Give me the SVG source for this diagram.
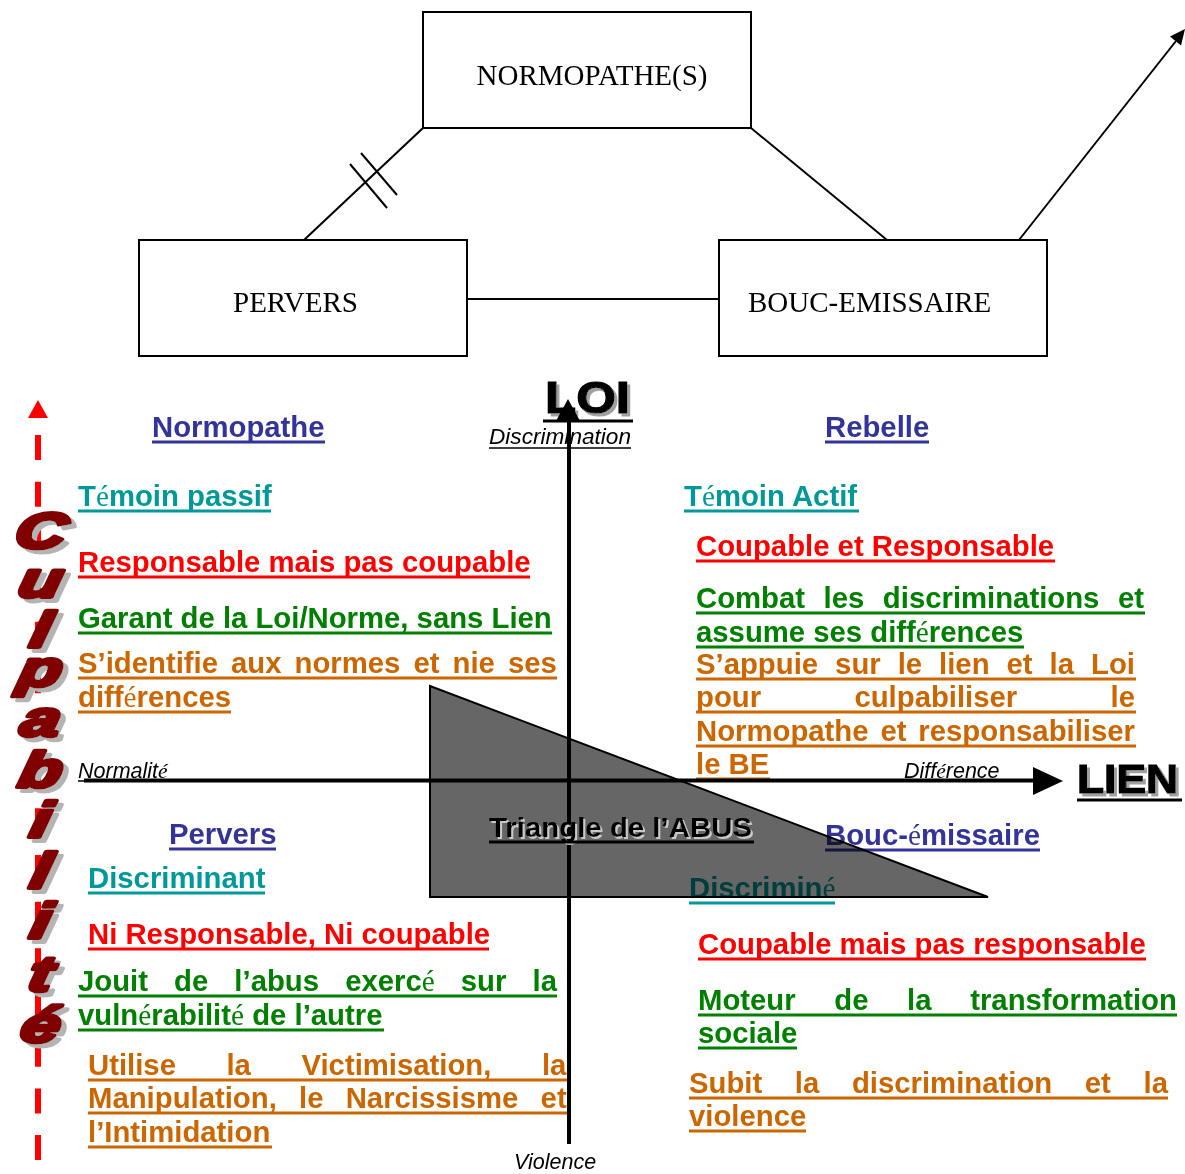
<svg xmlns="http://www.w3.org/2000/svg" width="1185" height="1174" viewBox="0 0 1185 1174">
<defs>
  <filter id="sh" x="-10%" y="-10%" width="130%" height="140%">
    <feDropShadow dx="3" dy="3" stdDeviation="0" flood-color="#a0a0a0" flood-opacity="1"/>
  </filter>
  <filter id="shl" x="-10%" y="-10%" width="130%" height="140%">
    <feDropShadow dx="2" dy="2" stdDeviation="0" flood-color="#c8c8c8" flood-opacity="1"/>
  </filter>
  <filter id="shc" x="-20%" y="-20%" width="150%" height="150%">
    <feDropShadow dx="5" dy="4" stdDeviation="0" flood-color="#b4b4b4" flood-opacity="1"/>
  </filter>
</defs>
<style>
.box{fill:#fff;stroke:#000;stroke-width:2}
.bt{font-family:"Liberation Serif","Times New Roman",serif;font-size:29px;fill:#000}
.cn{stroke:#000;stroke-width:2;fill:none}
.t{font-family:"Liberation Sans",Arial,sans-serif;font-weight:bold;font-size:29.3px}
.e{font-family:"Liberation Serif","Times New Roman",serif;font-weight:normal}
.it{font-family:"Liberation Sans",Arial,sans-serif;font-style:italic;font-size:21.5px;fill:#000}
.blue{fill:#333399}.teal{fill:#009999}.red{fill:#ff0000}.green{fill:#008000}.orange{fill:#cc6600}
.ub{stroke:#333399}.ut{stroke:#009999}.ur{stroke:#ff0000}.ug{stroke:#008000}.uo{stroke:#cc6600}
.ul line{stroke-width:3.2}
.cul{font-family:"Liberation Sans",Arial,sans-serif;font-weight:bold;font-style:italic;font-size:50px;text-anchor:middle;fill:#800000;stroke:#800000;stroke-width:4;stroke-linejoin:round}
.big{font-family:"Liberation Sans",Arial,sans-serif;font-weight:bold}
</style>

<!-- Top graph -->
<g id="connectors">
  <line class="cn" x1="423" y1="128" x2="304" y2="240"/>
  <line class="cn" x1="350" y1="164" x2="387" y2="208"/>
  <line class="cn" x1="361" y1="153" x2="397" y2="195"/>
  <line class="cn" x1="467" y1="299" x2="719" y2="299"/>
  <line class="cn" x1="751" y1="128" x2="887" y2="240"/>
  <line class="cn" x1="1019" y1="240" x2="1176" y2="41" stroke-width="2.5"/>
  <polygon points="1185,29 1181,45.5 1170,36.6" fill="#000"/>
</g>
<g id="node-normopathes">
  <rect class="box" x="423" y="12" width="328" height="116"/>
  <text class="bt" x="592" y="84.5" text-anchor="middle">NORMOPATHE(S)</text>
</g>
<g id="node-pervers">
  <rect class="box" x="139" y="240" width="328" height="116"/>
  <text class="bt" x="233" y="312">PERVERS</text>
</g>
<g id="node-bouc">
  <rect class="box" x="719" y="240" width="328" height="116"/>
  <text class="bt" x="748" y="312">BOUC-EMISSAIRE</text>
</g>

<!-- Culpabilité dashed arrow -->
<line x1="38" y1="435" x2="38" y2="1161" stroke="#ff0000" stroke-width="6" stroke-dasharray="25 21.67"/>
<polygon points="38,400 28,418 48,418" fill="#ff0000"/>
<g id="culpabilite" class="cul" filter="url(#shc)">
  <text transform="translate(38,548) scale(1.4,1) skewX(-8)">C</text>
  <text transform="translate(38,597) scale(1.4,1) skewX(-8)">u</text>
  <text transform="translate(38,647) scale(1.4,1) skewX(-8)">l</text>
  <text transform="translate(38,686) scale(1.4,1) skewX(-8)">p</text>
  <text transform="translate(38,736) scale(1.4,1) skewX(-8)">a</text>
  <text transform="translate(38,787) scale(1.4,1) skewX(-8)">b</text>
  <text transform="translate(38,837) scale(1.4,1) skewX(-8)">i</text>
  <text transform="translate(38,888) scale(1.4,1) skewX(-8)">l</text>
  <text transform="translate(38,938) scale(1.4,1) skewX(-8)">i</text>
  <text transform="translate(38,991) scale(1.4,1) skewX(-8)">t</text>
  <text transform="translate(38,1042) scale(1.4,1) skewX(-8)">é</text>
</g>

<!-- Quadrant texts -->
<g id="texts" class="t">
  <text class="blue" x="152" y="437">Normopathe</text>
  <text class="teal" x="78" y="506">T<tspan class="e">é</tspan>moin passif</text>
  <text class="red" x="78" y="572">Responsable mais pas coupable</text>
  <text class="green" x="78" y="628">Garant de la Loi/Norme, sans Lien</text>
  <text class="orange" x="78" y="673" word-spacing="4.9">S’identifie aux normes et nie ses</text>
  <text class="orange" x="78" y="707">diff<tspan class="e">é</tspan>rences</text>

  <text class="blue" x="825" y="437">Rebelle</text>
  <text class="teal" x="684" y="506">T<tspan class="e">é</tspan>moin Actif</text>
  <text class="red" x="696" y="556">Coupable et Responsable</text>
  <text class="green" x="696" y="608" word-spacing="10.4">Combat les discriminations et</text>
  <text class="green" x="696" y="642">assume ses diff<tspan class="e">é</tspan>rences</text>
  <text class="orange" x="696" y="674" word-spacing="8.85">S’appuie sur le lien et la Loi</text>
  <text class="orange" x="696" y="707" word-spacing="85.2">pour culpabiliser le</text>
  <text class="orange" x="696" y="741" word-spacing="3.75">Normopathe et responsabiliser</text>
  <text class="orange" x="696" y="774">le BE</text>

  <text class="blue" x="169" y="844">Pervers</text>
  <text class="teal" x="88" y="888">Discriminant</text>
  <text class="red" x="88" y="944">Ni Responsable, Ni coupable</text>
  <text class="green" x="78" y="991" word-spacing="17.96">Jouit de l’abus exerc<tspan class="e">é</tspan> sur la</text>
  <text class="green" x="78" y="1025">vuln<tspan class="e">é</tspan>rabilit<tspan class="e">é</tspan> de l’autre</text>
  <text class="orange" x="88" y="1075" word-spacing="42.4">Utilise la Victimisation, la</text>
  <text class="orange" x="88" y="1108" word-spacing="14.1">Manipulation, le Narcissisme et</text>
  <text class="orange" x="88" y="1142">l’Intimidation</text>

  <text class="blue" x="825" y="845">Bouc-<tspan class="e">é</tspan>missaire</text>
  <text class="teal" x="689" y="898">Discrimin<tspan class="e">é</tspan></text>
  <text class="red" x="698" y="954">Coupable mais pas responsable</text>
  <text class="green" x="698" y="1010" word-spacing="30.5">Moteur de la transformation</text>
  <text class="green" x="698" y="1043">sociale</text>
  <text class="orange" x="689" y="1093" word-spacing="24.5">Subit la discrimination et la</text>
  <text class="orange" x="689" y="1126">violence</text>
</g>

<g id="underlines" class="ul">
  <line class="ub" x1="152" y1="442" x2="325" y2="442"/>
  <line class="ut" x1="78" y1="511" x2="271" y2="511"/>
  <line class="ur" x1="78" y1="577" x2="530" y2="577"/>
  <line class="ug" x1="78" y1="633" x2="552" y2="633"/>
  <line class="uo" x1="78" y1="678" x2="557" y2="678"/>
  <line class="uo" x1="78" y1="712" x2="231" y2="712"/>
  <line class="ub" x1="825" y1="442" x2="929" y2="442"/>
  <line class="ut" x1="684" y1="511" x2="859" y2="511"/>
  <line class="ur" x1="696" y1="561" x2="1055" y2="561"/>
  <line class="ug" x1="696" y1="613" x2="1145" y2="613"/>
  <line class="ug" x1="696" y1="647" x2="1024" y2="647"/>
  <line class="uo" x1="696" y1="679" x2="1136" y2="679"/>
  <line class="uo" x1="696" y1="712" x2="1136" y2="712"/>
  <line class="uo" x1="696" y1="746" x2="1136" y2="746"/>
  <line class="uo" x1="696" y1="779" x2="770" y2="779"/>
  <line class="ub" x1="169" y1="849" x2="276" y2="849"/>
  <line class="ut" x1="88" y1="893" x2="265" y2="893"/>
  <line class="ur" x1="88" y1="949" x2="489" y2="949"/>
  <line class="ug" x1="78" y1="996" x2="557" y2="996"/>
  <line class="ug" x1="78" y1="1030" x2="384" y2="1030"/>
  <line class="uo" x1="88" y1="1080" x2="567" y2="1080"/>
  <line class="uo" x1="88" y1="1113" x2="567" y2="1113"/>
  <line class="uo" x1="88" y1="1147" x2="272" y2="1147"/>
  <line class="ub" x1="825" y1="850" x2="1040" y2="850"/>
  <line class="ut" x1="689" y1="903" x2="835" y2="903"/>
  <line class="ur" x1="698" y1="959" x2="1146" y2="959"/>
  <line class="ug" x1="698" y1="1015" x2="1177" y2="1015"/>
  <line class="ug" x1="698" y1="1048" x2="797" y2="1048"/>
  <line class="uo" x1="689" y1="1098" x2="1168" y2="1098"/>
  <line class="uo" x1="689" y1="1131" x2="806" y2="1131"/>
</g>

<!-- Triangle of abuse -->
<g id="triangle">
  <polygon points="430,686 430,897 988,897" fill="#666666" style="mix-blend-mode:multiply"/>
  <polygon points="430,686 430,897 988,897" fill="none" stroke="#000" stroke-width="2"/>
</g>

<!-- Axes -->
<g id="axes">
  <line x1="569" y1="418" x2="569" y2="1144" stroke="#000" stroke-width="4"/>
  <line x1="84" y1="780.5" x2="1036" y2="780.5" stroke="#000" stroke-width="4"/>
  <polygon points="1063,781 1033,767 1033,795" fill="#000"/>
</g>

<!-- Axis labels -->
<g id="loi">
  <text class="big" x="545" y="413" font-size="44" textLength="85" lengthAdjust="spacingAndGlyphs" fill="#000" stroke="#000" stroke-width="1.2" filter="url(#sh)">LOI</text>
  <line x1="543" y1="421" x2="633" y2="421" stroke="#000" stroke-width="3"/>
  <polygon points="568,399 556,421 580,421" fill="#000"/>
  <text class="it" x="489" y="444" textLength="142" lengthAdjust="spacingAndGlyphs">Discrimination</text>
  <line x1="489" y1="448" x2="631" y2="448" stroke="#000" stroke-width="1.5"/>
</g>
<g id="lien">
  <text class="big" x="1077" y="793" font-size="40" textLength="101" lengthAdjust="spacingAndGlyphs" fill="#000" stroke="#000" stroke-width="1.2" filter="url(#sh)">LIEN</text>
  <line x1="1077" y1="800" x2="1182" y2="800" stroke="#000" stroke-width="3"/>
  <text class="it" x="904" y="778">Diff<tspan class="e" font-style="italic">é</tspan>rence</text>
</g>
<g id="normalite">
  <text class="it" x="78" y="778">Normalit<tspan class="e" font-style="italic">é</tspan></text>
  <line x1="78" y1="781" x2="172" y2="781" stroke="#000" stroke-width="1.5"/>
</g>
<text class="it" x="514" y="1169">Violence</text>

<g id="triangle-label">
  <text class="big" x="489" y="837" font-size="28" textLength="263" lengthAdjust="spacingAndGlyphs" fill="#000" filter="url(#shl)">Triangle de l’ABUS</text>
  <line x1="489" y1="842" x2="754" y2="842" stroke="#000" stroke-width="3"/>
</g>
</svg>
